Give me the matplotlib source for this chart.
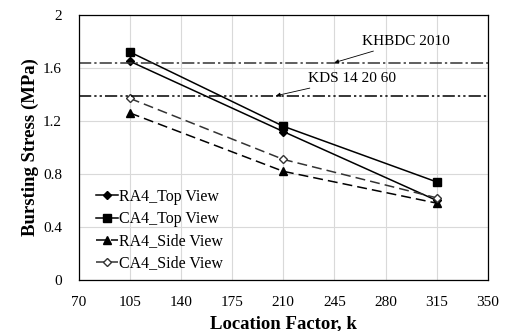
import matplotlib
matplotlib.use("Agg")
from matplotlib import pyplot as plt

plt.rcParams['font.family'] = ['Liberation Serif', 'DejaVu Serif']

# location factor k and bursting stress (MPa)
k = [105, 210, 315]
ra4_top = [1.65, 1.12, 0.60]
ca4_top = [1.72, 1.16, 0.74]
ra4_side = [1.26, 0.82, 0.58]
ca4_side = [1.37, 0.91, 0.62]

# code limits
khbdc_2010 = 1.64
kds_142060 = 1.39

fig = plt.figure(figsize=(5.05, 3.31), dpi=100)
ax = fig.add_axes([0.156, 0.154, 0.81, 0.801])

ax.plot(k, ra4_top, color='black', lw=1.1, marker='D', ms=4, label='RA4_Top View')
ax.plot(k, ca4_top, color='black', lw=1.1, marker='s', ms=5.5, label='CA4_Top View')
ax.plot(k, ra4_side, color='black', lw=1.1, ls=(0, (6.5, 3.3)), marker='^', ms=6, label='RA4_Side View')
ax.plot(k, ca4_side, color='#333333', lw=1.1, ls=(0, (6.5, 3.3)), marker='D', ms=4.5,
        mfc='white', mec='#333333', label='CA4_Side View')

ax.axhline(khbdc_2010, color='#333333', lw=1.1, ls=(0, (8, 2, 1.5, 2)))
ax.axhline(kds_142060, color='black', lw=1.1, ls=(0, (8, 2, 1.5, 2, 1.5, 2)))

ax.annotate('KHBDC 2010', xy=(245, khbdc_2010), xytext=(264, 1.80), fontsize=11,
            va='center', arrowprops=dict(arrowstyle='-|>', color='black', lw=0.6,
                                         mutation_scale=6, shrinkA=1, shrinkB=0))
ax.annotate('KDS 14 20 60', xy=(205, kds_142060), xytext=(227, 1.52), fontsize=11,
            va='center', arrowprops=dict(arrowstyle='-|>', color='black', lw=0.6,
                                         mutation_scale=6, shrinkA=1, shrinkB=0))

ax.set_xlim(70, 350)
ax.set_ylim(0, 2)
ax.set_xticks(range(70, 351, 35))
ax.set_yticks([0, 0.4, 0.8, 1.2, 1.6, 2])
ax.set_yticklabels(['0', '0.4', '0.8', '1.2', '1.6', '2'])
ax.tick_params(labelsize=11, length=0)
ax.tick_params(axis='x', pad=11.5)
ax.tick_params(axis='y', pad=12)
ax.grid(True, color='#d9d9d9', lw=0.8)
ax.set_axisbelow(True)
for s in ax.spines.values():
    s.set_linewidth(0.9)

ax.set_xlabel('Location Factor, k', fontsize=13.5, fontweight='bold', labelpad=4.5)
ax.set_ylabel('Bursting Stress (MPa)', fontsize=13.5, fontweight='bold', labelpad=3)

ax.legend(loc='lower left', bbox_to_anchor=(0.02, 0.0), frameon=False, fontsize=11.5,
          handlelength=1.4, handletextpad=0.05, labelspacing=0.38, borderaxespad=0.15)

fig.savefig('out.png', dpi=100)
